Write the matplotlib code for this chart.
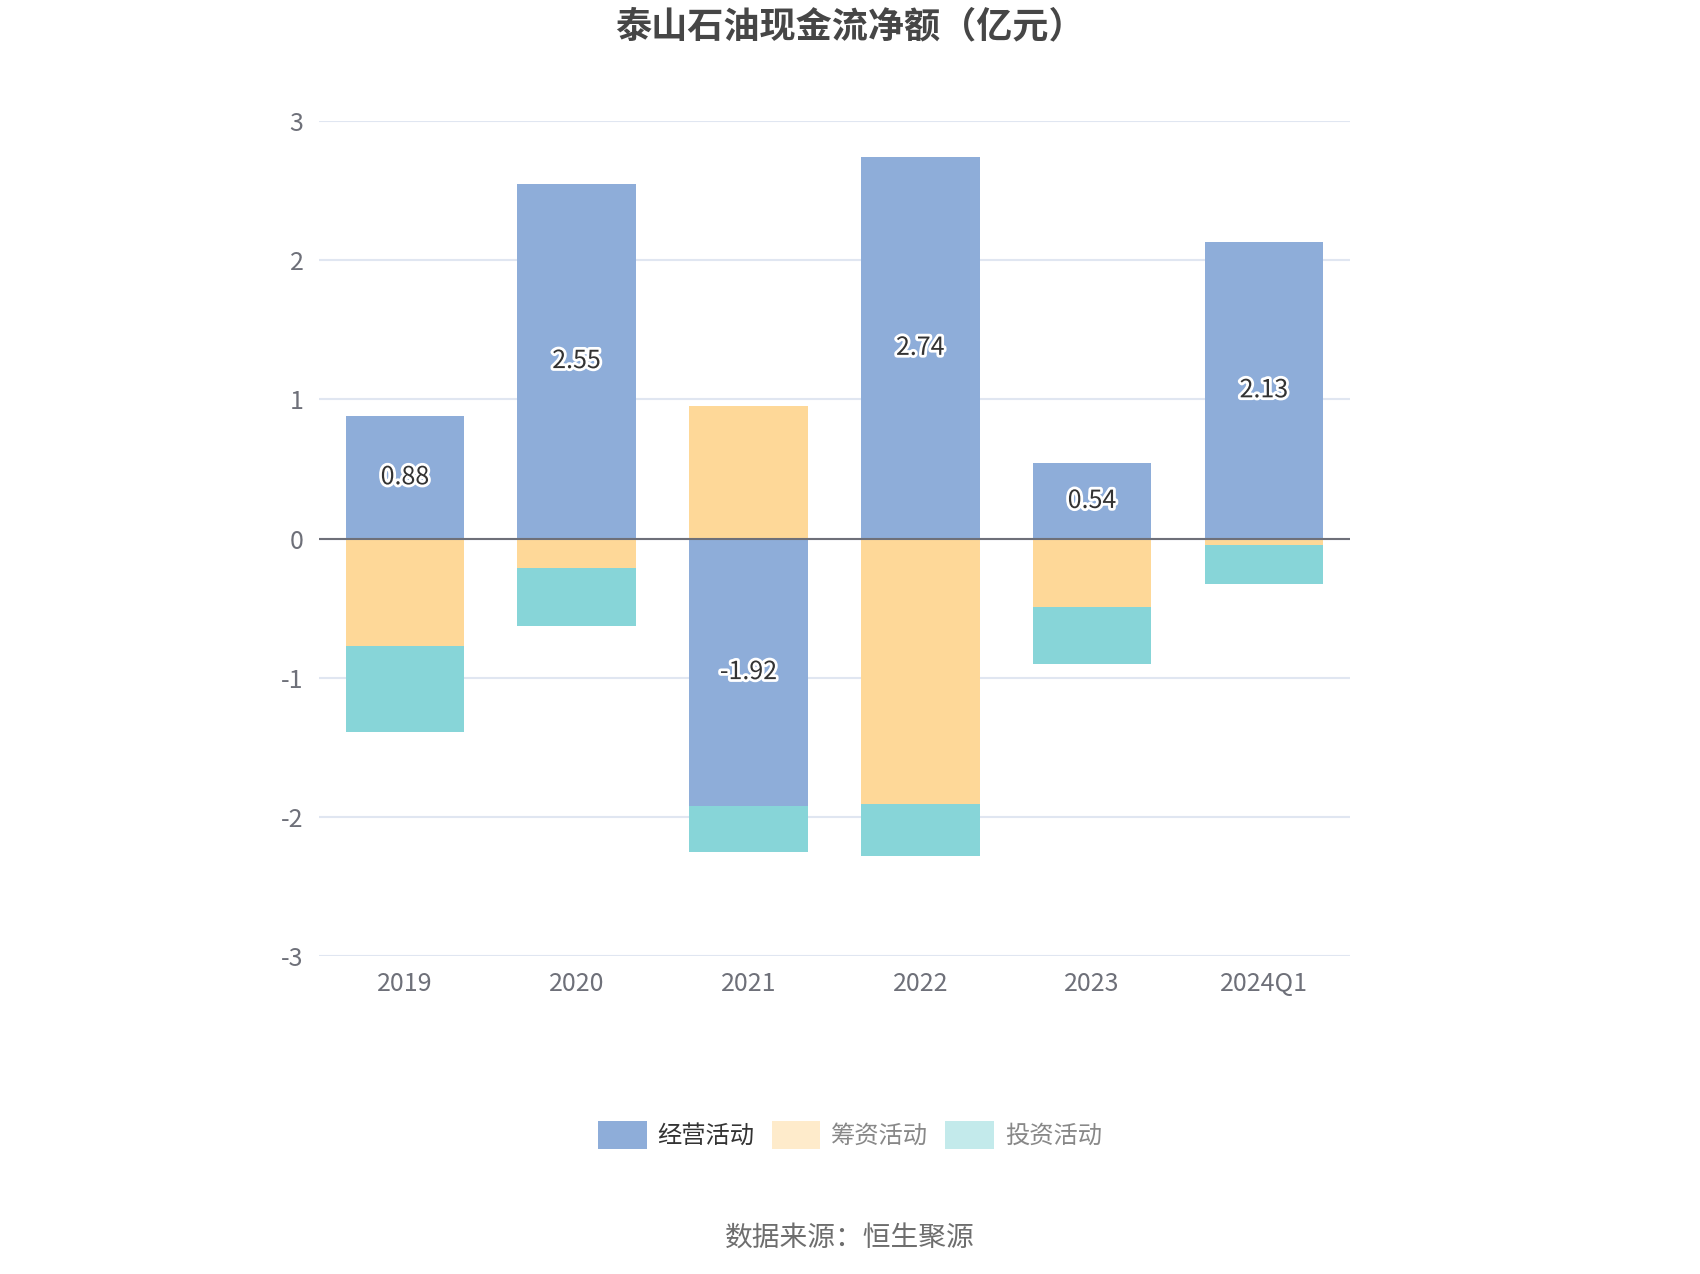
import numpy as np
import matplotlib.pyplot as plt
import matplotlib.patheffects as pe
from matplotlib.patches import Patch

plt.rcParams['font.family'] = ['Noto Sans CJK SC', 'DejaVu Sans']
plt.rcParams['axes.unicode_minus'] = False

# data (亿元)
years = ['2019', '2020', '2021', '2022', '2023', '2024Q1']
operating = [0.88, 2.55, -1.92, 2.74, 0.54, 2.13]
financing = [-0.77, -0.21, 0.95, -1.91, -0.49, -0.05]
investing = [-0.62, -0.42, -0.33, -0.37, -0.41, -0.28]

series = [('经营活动', operating, '#8eadd9', '#8eadd9', '#333333'),
          ('筹资活动', financing, '#fed898', '#feebcb', '#888888'),
          ('投资活动', investing, '#87d5d8', '#c3eaeb', '#888888')]

fig = plt.figure(figsize=(17, 12.74), dpi=100)
ax = fig.add_axes([0.1876, 0.2496, 0.6064, 0.6554])

x = np.arange(len(years))
pos_base = np.zeros(len(years))
neg_base = np.zeros(len(years))
for name, vals, color, _, _ in series:
    vals = np.array(vals)
    bottom = np.where(vals >= 0, pos_base, neg_base)
    ax.bar(x, vals, width=0.69, bottom=bottom, color=color, zorder=2)
    if name == '经营活动':
        for xi, v, b in zip(x, vals, bottom):
            ax.text(xi, b + v / 2, f'{v:.2f}', ha='center', va='center',
                    fontsize=18, color='#333333', zorder=5,
                    path_effects=[pe.withStroke(linewidth=4, foreground='white')])
    pos_base = pos_base + np.where(vals >= 0, vals, 0)
    neg_base = neg_base + np.where(vals < 0, vals, 0)

ax.set_xlim(-0.5, len(years) - 0.5)
ax.set_ylim(-3, 3)
ax.set_yticks([-3, -2, -1, 0, 1, 2, 3])
ax.set_xticks(x)
ax.set_xticklabels(years)
ax.grid(axis='y', color='#e0e6f1', linewidth=1.5, zorder=0)
ax.axhline(0, color='#6e7079', linewidth=1.5, zorder=3)
for s in ax.spines.values():
    s.set_visible(False)
ax.tick_params(axis='both', length=0, labelsize=18, labelcolor='#6e7079')
ax.tick_params(axis='y', pad=11)
ax.tick_params(axis='x', pad=11)

fig.text(0.5, 0.979, '泰山石油现金流净额（亿元）', ha='center', va='center',
         fontsize=26, fontweight='bold', color='#464646')

handles = [Patch(facecolor=lc, edgecolor='none') for _, _, _, lc, _ in series]
leg = fig.legend(handles, [s[0] for s in series], loc='center',
                 bbox_to_anchor=(0.5, 0.109), ncol=3, frameon=False,
                 fontsize=17.5, handlelength=2.0, handleheight=1.35,
                 columnspacing=0.7, handletextpad=0.45)
for t, s in zip(leg.get_texts(), series):
    t.set_color(s[4])

fig.text(0.5, 0.028, '数据来源：恒生聚源', ha='center', va='center',
         fontsize=20, color='#6e6e6e')

fig.savefig('out.png', dpi=100, facecolor='white')
